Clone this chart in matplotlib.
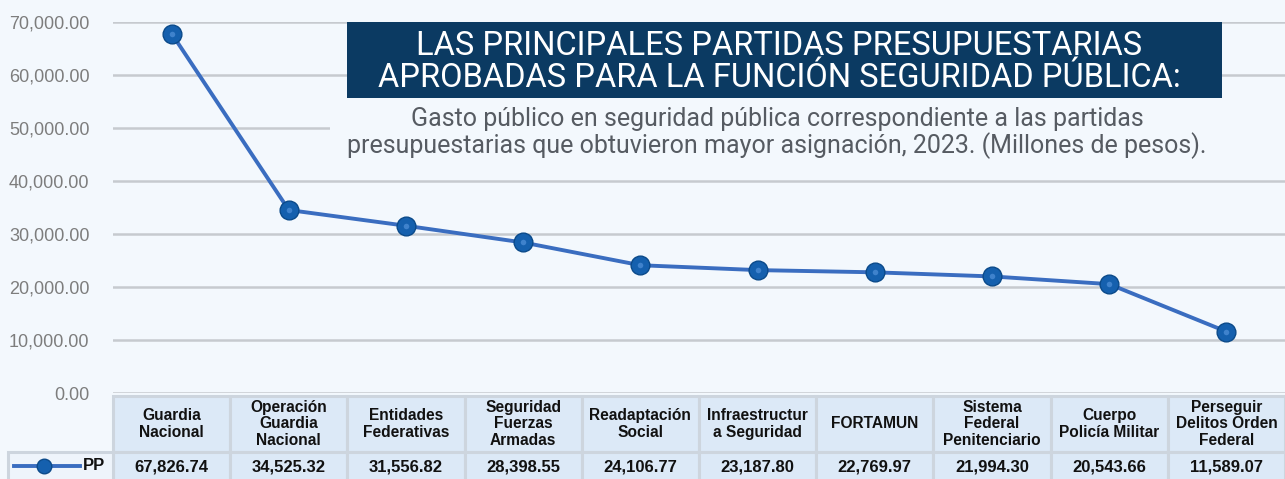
import matplotlib
matplotlib.use("Agg")
import matplotlib.pyplot as plt
from matplotlib.patches import Rectangle
from matplotlib.ticker import FuncFormatter

# data
categories = ["Guardia\nNacional", "Operación\nGuardia\nNacional", "Entidades\nFederativas",
              "Seguridad\nFuerzas\nArmadas", "Readaptación\nSocial", "Infraestructur\na Seguridad",
              "FORTAMUN", "Sistema\nFederal\nPenitenciario", "Cuerpo\nPolicía Militar",
              "Perseguir\nDelitos Orden\nFederal"]
values = [67826.74, 34525.32, 31556.82, 28398.55, 24106.77, 23187.80, 22769.97,
          21994.30, 20543.66, 11589.07]
series_name = "PP"
yticks = [0, 10000, 20000, 30000, 40000, 50000, 60000, 70000]
title = "LAS PRINCIPALES PARTIDAS PRESUPUESTARIAS\nAPROBADAS PARA LA FUNCIÓN SEGURIDAD PÚBLICA:"
subtitle = ("Gasto público en seguridad pública correspondiente a las partidas\n"
            "presupuestarias que obtuvieron mayor asignación, 2023. (Millones de pesos).")

W, H = 1285, 479
BG = "#f3f8fd"
LINE = "#3a6dc0"
CELL = "#dce9f7"
BORDER = "#cdd5de"
SANS = ["Liberation Sans", "DejaVu Sans"]

fig = plt.figure(figsize=(W / 100, H / 100), dpi=100, facecolor=BG)

# main plot area (pixel layout -> figure fractions)
left, right, top, bottom = 113, W, 22, 393
ax = fig.add_axes([left / W, (H - bottom) / H, (right - left) / W, (bottom - top) / H])
ax.set_facecolor(BG)
n = len(values)
xs = list(range(n))
ax.set_xlim(-0.5, n - 0.5)
ax.set_ylim(0, 70000)
for s in ax.spines.values():
    s.set_visible(False)
ax.set_xticks([])
ax.set_yticks(yticks)
ax.yaxis.set_major_formatter(FuncFormatter(lambda v, p: f"{v:,.2f}"))
ax.tick_params(axis="y", length=0, pad=17, labelsize=13, labelcolor="#7d7d7d")
for lab in ax.get_yticklabels():
    lab.set_family(SANS)
ax.grid(axis="y", color="#c6cacf", lw=1.8)
ax.set_axisbelow(True)

ax.plot(xs, values, color=LINE, lw=2.8, zorder=3, clip_on=False)
ax.plot(xs, values, ls="none", marker="o", ms=13.5, mfc="#1560ae", mec="#0b4a8a",
        mew=1.0, zorder=4, clip_on=False)
ax.plot(xs, values, ls="none", marker="o", ms=4, mfc="#3f82cc", mec="none",
        zorder=5, clip_on=False)

# data table under the chart, aligned to the same x scale
unit = (right - left) / n
tax = fig.add_axes([0, 0, 1, (H - bottom) / H])
tax.set_xlim(-0.5 - left / unit, n - 0.5)
tax.set_ylim(0, H - bottom)
tax.axis("off")
row_h = 27
head_top = H - bottom - 3
for i, (cat, v) in enumerate(zip(categories, values)):
    tax.add_patch(Rectangle((i - 0.5, row_h), 1, head_top - row_h, fc=CELL, ec=BORDER, lw=2.2))
    tax.add_patch(Rectangle((i - 0.5, -5), 1, row_h + 5, fc=CELL, ec=BORDER, lw=2.2))
    tax.text(i, (head_top + row_h) / 2, cat, ha="center", va="center", fontsize=11.2,
             fontweight="bold", family=SANS, color="#111111", linespacing=1.1)
    tax.text(i, row_h / 2 - 1, f"{v:,.2f}", ha="center", va="center", fontsize=12,
             fontweight="bold", family=SANS, color="#111111")
x0 = -0.5 - (left - 8) / unit
tax.add_patch(Rectangle((x0, -5), -0.5 - x0, row_h + 5, fc="#eef4fb", ec=BORDER, lw=2.2))
lx = [x0 + 6 / unit, x0 + 72 / unit]
tax.plot(lx, [row_h / 2, row_h / 2], color=LINE, lw=2.8)
tax.plot([x0 + 36 / unit], [row_h / 2], marker="o", ms=10.5, mfc="#1560ae", mec="#0b4a8a")
tax.text(-0.5 - 8 / unit, row_h / 2, series_name, ha="right", va="center", fontsize=12,
         fontweight="bold", family=SANS, color="#111111")

# title box and subtitle
fig.patches.append(Rectangle((347 / W, 1 - 98 / H), (1222 - 347) / W, 76 / H,
                             transform=fig.transFigure, fc="#0b3a62", ec="none", zorder=5))
fig.text(779 / W, 1 - 62 / H, title, ha="center", va="center", color="white",
         fontsize=23.5, family=["Roboto", "DejaVu Sans"], linespacing=1.02, zorder=6)
fig.patches.append(Rectangle((330 / W, 1 - 165 / H), (W - 330) / W, 65 / H,
                             transform=fig.transFigure, fc=BG, ec="none", zorder=5))
fig.text(777 / W, 1 - 133 / H, subtitle, ha="center", va="center", color="#565b62",
         fontsize=18, family=["Roboto", "DejaVu Sans"], linespacing=1.08, zorder=6)

fig.savefig("out.png", dpi=100, facecolor=BG)
